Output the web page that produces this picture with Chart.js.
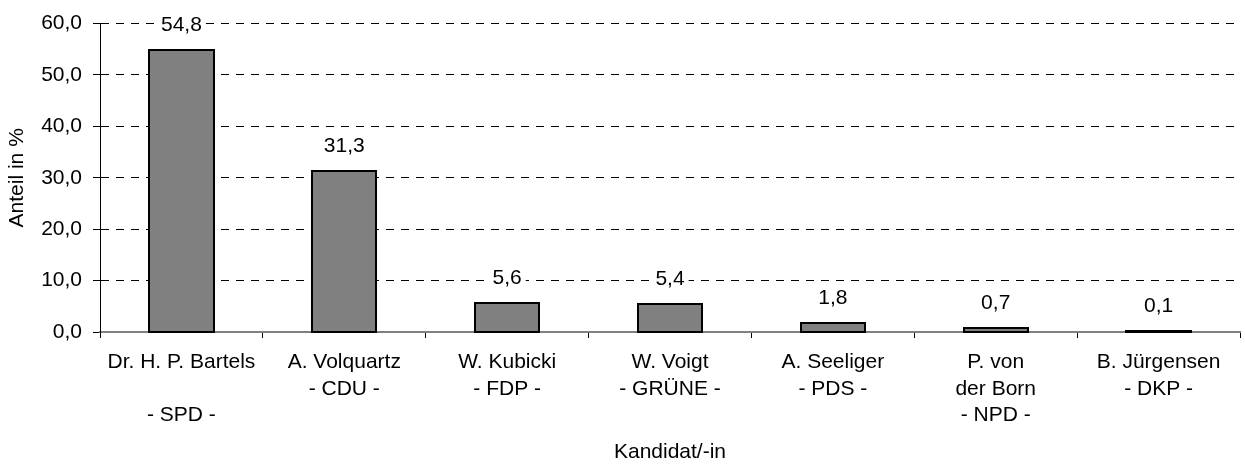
<!DOCTYPE html>
<html>
<head>
<meta charset="utf-8">
<script src="https://cdn.jsdelivr.net/npm/chart.js@4/dist/chart.umd.min.js"></script>
<style>
  body { margin: 0; background: #fff; }
  #wrap { width: 1245px; height: 465px; }
</style>
</head>
<body>
<div id="wrap"><canvas id="grafico"></canvas></div>
<script>
// Kandidaten (mehrzeilige Beschriftung) und Anteile in %
var kandidaten = [
  ["Dr. H. P. Bartels", "", "- SPD -"],
  ["A. Volquartz", "- CDU -"],
  ["W. Kubicki", "- FDP -"],
  ["W. Voigt", "- GRÜNE -"],
  ["A. Seeliger", "- PDS -"],
  ["P. von", "der Born", "- NPD -"],
  ["B. Jürgensen", "- DKP -"]
];
var anteile = [54.8, 31.3, 5.6, 5.4, 1.8, 0.7, 0.1];
var yTicks = [0, 10, 20, 30, 40, 50, 60];

function komma(v) {
  return Number(v).toFixed(1).replace(".", ",");
}

var schrift = "'Liberation Sans', Arial, sans-serif";

// Rahmen der Balken und Werte mit weissem Hintergrund
var balkenPlugin = {
  id: "balken",
  afterDatasetsDraw: function (chart) {
    var ctx = chart.ctx;
    var meta = chart.getDatasetMeta(0);
    ctx.save();
    meta.data.forEach(function (bar, i) {
      var p = bar.getProps(["x", "y", "base", "width"], true);
      var x1 = Math.round(p.x - p.width / 2);
      var x2 = Math.round(p.x + p.width / 2);
      var y1 = Math.round(p.y);
      var y2 = Math.round(p.base);
      if (y2 - y1 < 1) y1 = y2 - 1;
      ctx.lineWidth = 2;
      ctx.strokeStyle = "#000";
      ctx.strokeRect(x1, y1, x2 - x1, y2 - y1);

      var txt = komma(anteile[i]);
      ctx.font = "21px " + schrift;
      var w = ctx.measureText(txt).width;
      var ty = p.y - 25;
      ctx.fillStyle = "#fff";
      ctx.fillRect(p.x - w / 2 - 4, ty - 12, w + 8, 24);
      ctx.fillStyle = "#000";
      ctx.textAlign = "center";
      ctx.textBaseline = "middle";
      ctx.fillText(txt, p.x, ty);
    });
    ctx.restore();
  }
};

new Chart(document.getElementById("grafico").getContext("2d"), {
  type: "bar",
  data: {
    labels: kandidaten,
    datasets: [{
      data: anteile,
      backgroundColor: "#808080",
      borderWidth: 0,
      barPercentage: 0.395,
      categoryPercentage: 1.0
    }]
  },
  options: {
    responsive: true,
    maintainAspectRatio: false,
    animation: false,
    layout: { padding: { top: 20, right: 5, left: 0, bottom: 0 } },
    plugins: {
      legend: { display: false },
      tooltip: { enabled: false }
    },
    scales: {
      x: {
        offset: true,
        afterFit: function (scale) { scale.height = 133; },
        grid: {
          offset: true,
          drawOnChartArea: false,
          drawTicks: true,
          tickLength: 6,
          tickColor: "#000",
          color: "#000"
        },
        border: { color: "#808080", width: 2 },
        ticks: {
          autoSkip: false,
          maxRotation: 0,
          padding: 11,
          color: "#000",
          font: { family: schrift, size: 21, lineHeight: 1.27 }
        },
        title: {
          display: true,
          text: "Kandidat/-in",
          color: "#000",
          padding: { top: 0, bottom: 0 },
          font: { family: schrift, size: 21, lineHeight: 1.2 }
        }
      },
      y: {
        min: yTicks[0],
        max: yTicks[yTicks.length - 1],
        afterFit: function (scale) { scale.width = 100; },
        afterBuildTicks: function (scale) {
          scale.ticks = yTicks.map(function (v) { return { value: v }; });
        },
        grid: {
          color: function (c) { return c.tick && c.tick.value === 0 ? "rgba(0,0,0,0)" : "#000"; },
          lineWidth: 1,
          tickLength: 7,
          tickColor: "#000"
        },
        border: { color: "#000", width: 1, dash: [8, 7] },
        ticks: {
          padding: 11,
          color: "#000",
          font: { family: schrift, size: 21 },
          callback: function (v) { return komma(v); }
        },
        title: {
          display: true,
          text: "Anteil in %",
          color: "#000",
          padding: { top: 5, bottom: 0 },
          font: { family: schrift, size: 21, lineHeight: 1.2 }
        }
      }
    }
  },
  plugins: [balkenPlugin]
});
</script>
</body>
</html>
